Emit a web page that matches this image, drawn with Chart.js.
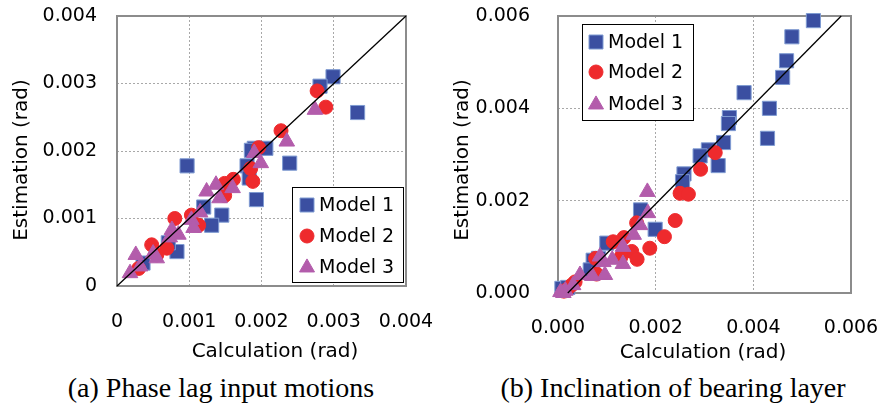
<!DOCTYPE html>
<html><head><meta charset="utf-8">
<script src="https://cdn.jsdelivr.net/npm/chart.js@4.4.1/dist/chart.umd.min.js"></script>
<style>
html,body{margin:0;padding:0;background:#fff;}
#wrap{position:relative;width:880px;height:405px;overflow:hidden;background:#fff;}
.cv{position:absolute;top:0;}
.cap{position:absolute;width:440px;text-align:center;font-family:"Liberation Serif","Times New Roman",serif;font-size:28px;line-height:32px;color:#000;white-space:nowrap;}
</style></head><body>
<div id="wrap">
<canvas id="c1" class="cv" width="440" height="370" style="left:0"></canvas>
<canvas id="c2" class="cv" width="440" height="370" style="left:440px"></canvas>
<div class="cap" style="left:1px;top:372px">(a) Phase lag input motions</div>
<div class="cap" style="left:453px;top:372px">(b) Inclination of bearing layer</div>
</div>
<script>
// ---------- data ----------
const seriesNames = ['Model 1', 'Model 2', 'Model 3'];
const xTitle = 'Calculation (rad)';
const yTitle = 'Estimation (rad)';

// (a) Phase lag input motions
const phaseTicks = [0, 0.001, 0.002, 0.003, 0.004];
const phaseLineX = [0, 0.004];
const phaseLineY = [0, 0.004];
const phaseM1X = [0.00299,0.00281,0.00333,0.00097,0.00190,0.00206,0.00239,0.00180,0.00183,0.00193,0.00120,0.00145,0.00131,0.00083,0.00071,0.00036,0.00186];
const phaseM1Y = [0.00310,0.00296,0.00257,0.00178,0.00204,0.00204,0.00182,0.00178,0.00160,0.00128,0.00117,0.00105,0.00090,0.00051,0.00064,0.00034,0.00201];
const phaseM2X = [0.00277,0.00289,0.00227,0.00196,0.00185,0.00188,0.00161,0.00149,0.00149,0.00080,0.00103,0.00113,0.00048,0.00069,0.00055,0.00030];
const phaseM2Y = [0.00289,0.00265,0.00230,0.00205,0.00174,0.00155,0.00158,0.00152,0.00134,0.00100,0.00105,0.00090,0.00061,0.00056,0.00046,0.00026];
const phaseM3X = [0.00274,0.00235,0.00190,0.00199,0.00160,0.00137,0.00124,0.00142,0.00115,0.00103,0.00076,0.00085,0.00073,0.00026,0.00050,0.00055,0.00032,0.00018,0.00106];
const phaseM3Y = [0.00261,0.00214,0.00197,0.00182,0.00145,0.00150,0.00140,0.00130,0.00109,0.00098,0.00083,0.00076,0.00072,0.00046,0.00048,0.00041,0.00029,0.00019,0.00086];

// (b) Inclination of bearing layer
const inclTicks = [0, 0.002, 0.004, 0.006];
const inclLineX = [0.0002, 0.0058];
const inclLineY = [0, 0.006];
const inclM1X = [0.00523,0.00479,0.00468,0.00460,0.00381,0.00433,0.00429,0.00351,0.00349,0.00339,0.00308,0.00291,0.00328,0.00258,0.00255,0.00169,0.00199,0.00100,0.00083,0.00072,0.00066,0.00008,0.00020];
const inclM1Y = [0.00590,0.00555,0.00503,0.00467,0.00434,0.00400,0.00335,0.00380,0.00367,0.00326,0.00310,0.00297,0.00276,0.00258,0.00241,0.00180,0.00138,0.00108,0.00075,0.00071,0.00050,0.00010,0.00012];
const inclM2X = [0.00322,0.00292,0.00250,0.00267,0.00240,0.00218,0.00188,0.00161,0.00135,0.00113,0.00151,0.00162,0.00129,0.00077,0.00079,0.00035,0.00028,0.00012,0.00018];
const inclM2Y = [0.00304,0.00268,0.00216,0.00214,0.00157,0.00122,0.00097,0.00152,0.00120,0.00111,0.00090,0.00073,0.00078,0.00075,0.00041,0.00024,0.00017,0.00004,0.00007];
const inclM3X = [0.00183,0.00184,0.00168,0.00155,0.00133,0.00133,0.00111,0.00093,0.00086,0.00096,0.00045,0.00070,0.00031,0.00011,0.00015,0.00005];
const inclM3Y = [0.00219,0.00173,0.00147,0.00126,0.00100,0.00063,0.00072,0.00067,0.00079,0.00039,0.00039,0.00037,0.00017,0.00000,0.00005,0.00002];

// ---------- styling ----------
const FONT = '"DejaVu Sans", Verdana, sans-serif';
const markers = [
  {style: 'rect', radius: 10, bg: '#3B4FA1', border: '#7F9BD2'},
  {style: 'circle', radius: 7, bg: '#EE2A2D', border: '#EE2A2D'},
  {style: 'triangle', radius: 9, bg: '#B35CAB', border: '#B35CAB'}
];

function drawMarker(ctx, m, x, y, s) {
  ctx.save();
  ctx.fillStyle = m.bg; ctx.strokeStyle = m.border; ctx.lineWidth = 1;
  ctx.beginPath();
  if (m.style === 'rect') { ctx.rect(x - s/2, y - s/2, s, s); }
  else if (m.style === 'circle') { ctx.arc(x, y, s/2, 0, Math.PI*2); }
  else { const h = s*0.87; ctx.moveTo(x, y - h*0.62); ctx.lineTo(x + s/2, y + h*0.38); ctx.lineTo(x - s/2, y + h*0.38); ctx.closePath(); }
  ctx.fill(); ctx.stroke();
  ctx.restore();
}

const decor = {
  id: 'decor',
  beforeDatasetsDraw(chart, args, o) {
    const a = chart.chartArea, ctx = chart.ctx;
    ctx.save();
    ctx.strokeStyle = '#8c8c8c'; ctx.lineWidth = 2;
    ctx.strokeRect(a.left, a.top, a.right - a.left, a.bottom - a.top);
    ctx.restore();
  },
  afterDraw(chart, args, o) {
    const ctx = chart.ctx;
    ctx.save();
    ctx.fillStyle = '#000';
    ctx.font = '20px ' + FONT;
    ctx.textAlign = 'center'; ctx.textBaseline = 'middle';
    ctx.fillText(xTitle, o.xt[0], o.xt[1]);
    ctx.save(); ctx.translate(o.yt[0], o.yt[1]); ctx.rotate(-Math.PI/2);
    ctx.fillText(yTitle, 0, 0); ctx.restore();
    // legend
    const b = o.box;
    ctx.fillStyle = '#fff'; ctx.fillRect(b[0], b[1], b[2], b[3]);
    ctx.strokeStyle = '#000'; ctx.lineWidth = 1;
    ctx.strokeRect(b[0] + 0.5, b[1] + 0.5, b[2], b[3]);
    ctx.font = '19px ' + FONT; ctx.textAlign = 'left'; ctx.fillStyle = '#000';
    o.rows.forEach((ry, i) => {
      drawMarker(ctx, markers[i], o.mx, ry, i === 2 ? 15 : 14);
      ctx.fillStyle = '#000';
      ctx.fillText(seriesNames[i], o.tx, ry + 1);
    });
    ctx.restore();
  }
};

function pts(xs, ys) { return xs.map((x, i) => ({x: x, y: ys[i]})); }

function makeChart(id, c) {
  const datasets = [{
    label: 'line', data: pts(c.lineX, c.lineY), showLine: true, borderColor: '#000',
    borderWidth: 1.3, pointRadius: 0, pointHoverRadius: 0, fill: false, order: 0, clip: false
  }];
  c.series.forEach((s, i) => {
    const m = markers[i];
    datasets.push({
      label: seriesNames[i], data: pts(s[0], s[1]), pointStyle: m.style,
      pointRadius: m.radius, pointHoverRadius: m.radius, backgroundColor: m.bg,
      borderColor: m.border, borderWidth: 1, order: 3 - i, clip: false
    });
  });
  const tickFont = {family: FONT, size: 19};
  return new Chart(document.getElementById(id), {
    type: 'scatter',
    data: {datasets: datasets},
    plugins: [decor],
    options: {
      responsive: false, animation: false, devicePixelRatio: 1,
      layout: {padding: c.pad},
      events: [],
      plugins: {legend: {display: false}, tooltip: {enabled: false}, decor: c.decor},
      scales: {
        x: {
          type: 'linear', min: 0, max: c.ticks[c.ticks.length - 1],
          afterBuildTicks: s => { s.ticks = c.ticks.map(v => ({value: v})); },
          afterFit: s => { s.height = c.xH; s.paddingLeft = 0; s.paddingRight = 0; s.paddingTop = 0; s.paddingBottom = 0; },
          ticks: {callback: c.fmt, font: tickFont, color: '#000', padding: c.xPad, maxRotation: 0, autoSkip: false},
          grid: {color: '#a8a8a8', lineWidth: 1, drawTicks: false},
          border: {display: false, dash: [2, 2]}
        },
        y: {
          type: 'linear', min: 0, max: c.ticks[c.ticks.length - 1],
          afterBuildTicks: s => { s.ticks = c.ticks.map(v => ({value: v})); },
          afterFit: s => { s.width = c.yW; s.paddingLeft = 0; s.paddingRight = 0; s.paddingTop = 0; s.paddingBottom = 0; },
          ticks: {callback: c.fmt, font: tickFont, color: '#000', padding: c.yPad, autoSkip: false},
          grid: {color: '#a8a8a8', lineWidth: 1, drawTicks: false},
          border: {display: false, dash: [2, 2]}
        }
      }
    }
  });
}

makeChart('c1', {
  ticks: phaseTicks, lineX: phaseLineX, lineY: phaseLineY,
  series: [[phaseM1X, phaseM1Y], [phaseM2X, phaseM2Y], [phaseM3X, phaseM3Y]],
  fmt: v => (v === 0 ? '0' : Number(v).toFixed(3)),
  pad: {left: 0, top: 16, right: 34, bottom: 0}, yW: 117, xH: 84, xPad: 25, yPad: 20,
  decor: {xt: [275, 352], yt: [22, 160], box: [292, 187, 111, 95], rows: [205, 236, 267], mx: 307, tx: 319}
});
makeChart('c2', {
  ticks: inclTicks, lineX: inclLineX, lineY: inclLineY,
  series: [[inclM1X, inclM1Y], [inclM2X, inclM2Y], [inclM3X, inclM3Y]],
  fmt: v => Number(v).toFixed(3),
  pad: {left: 0, top: 16, right: 29, bottom: 0}, yW: 118, xH: 77, xPad: 24, yPad: 28,
  decor: {xt: [263, 353], yt: [23, 160], box: [142, 24, 111, 96], rows: [42, 72, 104], mx: 156, tx: 168}
});
</script>
</body></html>
